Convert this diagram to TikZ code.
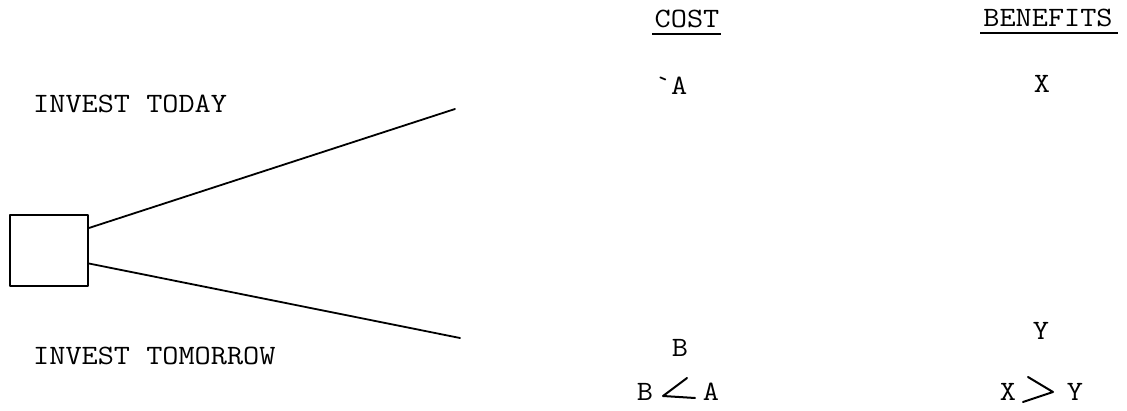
\documentclass[tikz,border=0pt]{standalone}
\usepackage{fontspec}
\begin{document}
\begin{tikzpicture}[x={(1pt,0)},y={(0,-1pt)},
  txt/.style={font=\ttfamily\fontsize{28}{28}\selectfont, xscale=1.12, inner sep=0pt, anchor=base},
  stroke/.style={line width=1.8pt, line cap=round, line join=round},
  uline/.style={line width=1.8pt}]
\useasboundingbox[fill=white] (0,0) rectangle (1127,411);
% decision box and branches
\node[draw, stroke, minimum width=78pt, minimum height=71pt, inner sep=0pt] (box) at (49,250.5) {};
\coordinate (uend) at (455,109);
\coordinate (lend) at (460,338);
\draw[stroke] ([yshift=22.5pt]box.east) -- (uend);
\draw[stroke] ([yshift=-13pt]box.east) -- (lend);
% left labels
\node[txt, anchor=base west] (today) at (33,113) {INVEST TODAY};
\node[txt, anchor=base west] (tomorrow) at (33,365) {INVEST TOMORROW};
% headers
\node[txt] (cost) at (687,28) {COST};
\node[txt] (ben) at (1048,27) {BENEFITS};
\draw[uline] ([xshift=-2pt,yshift=-6pt]cost.base west) -- ([xshift=1pt,yshift=-6pt]cost.base east);
\draw[uline] ([xshift=-3pt,yshift=-6pt]ben.base west) -- ([xshift=5pt,yshift=-6pt]ben.base east);
% values
\node[txt] (a1) at (671,95) {\textasciigrave A};
\node[txt] (x1) at (1042,93) {X};
\node[txt] (b1) at (680,357) {B};
\node[txt] (y1) at (1041,340) {Y};
% comparisons
\node[txt] (b2) at (645,400) {B};
\node[txt] (a2) at (711,400) {A};
\draw[stroke, line width=2pt] (687,378) -- (663,396) -- (695,398);
\node[txt] (x2) at (1008,400) {X};
\node[txt] (y2) at (1075,400) {Y};
\draw[stroke, line width=2pt] (1028,377) -- (1053,392) -- (1023,402);
\end{tikzpicture}
\end{document}
